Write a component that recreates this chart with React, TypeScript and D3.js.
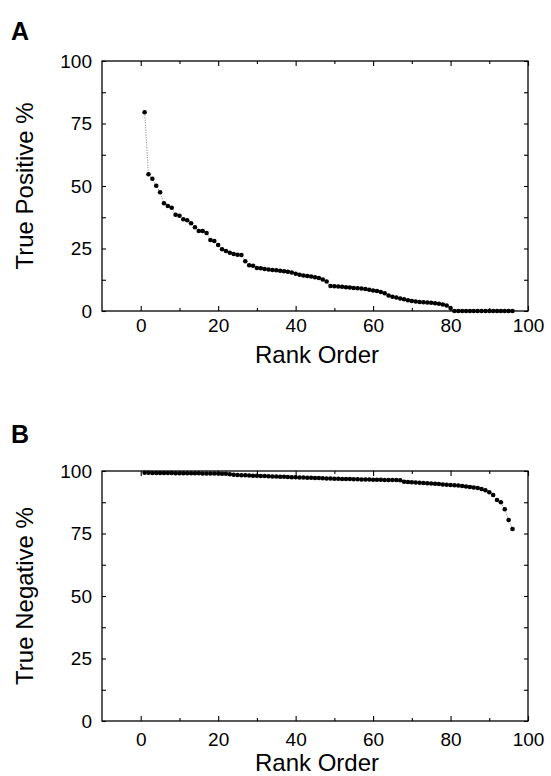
import React, { useEffect, useRef } from 'react'
import { select, scaleLinear, axisBottom, axisTop, axisLeft, axisRight, line, range } from 'd3'

// rank order 1..96, shared by both panels
const ranks = range(1, 97)

// panel A, true positive % for each rank
const truePositive = [
  79.5, 54.7, 52.9, 50.1, 47.5, 43.1, 42.0, 41.3, 38.5, 38.1,
  36.7, 36.3, 35.1, 33.5, 32.0, 32.0, 31.2, 28.4, 28.0, 26.4,
  24.7, 24.0, 23.3, 22.8, 22.5, 22.4, 19.9, 18.3, 18.1, 17.2,
  17.1, 16.8, 16.6, 16.4, 16.3, 16.1, 15.9, 15.7, 15.4, 14.9,
  14.5, 14.2, 14.0, 13.8, 13.5, 13.2, 12.6, 11.8, 10.0, 9.9,
  9.8, 9.7, 9.5, 9.4, 9.2, 9.1, 9.0, 8.8, 8.5, 8.2,
  8.0, 7.6, 7.1, 6.2, 5.7, 5.4, 5.0, 4.7, 4.3, 4.0,
  3.8, 3.6, 3.5, 3.4, 3.3, 3.1, 2.9, 2.6, 2.2, 1.2,
  0, 0, 0, 0, 0, 0, 0, 0, 0, 0,
  0, 0, 0, 0, 0, 0
]

// panel B, true negative % for each rank
const trueNegative = [
  99.3, 99.3, 99.2, 99.2, 99.2, 99.2, 99.2, 99.2, 99.1, 99.1,
  99.1, 99.1, 99.1, 99.1, 99.1, 99.0, 99.0, 99.0, 99.0, 99.0,
  98.9, 98.9, 98.7, 98.5, 98.4, 98.3, 98.3, 98.2, 98.1, 98.1,
  98.0, 98.0, 97.9, 97.8, 97.8, 97.7, 97.7, 97.6, 97.5, 97.5,
  97.4, 97.4, 97.3, 97.3, 97.2, 97.2, 97.1, 97.0, 97.0, 96.9,
  96.9, 96.8, 96.8, 96.8, 96.7, 96.7, 96.6, 96.6, 96.6, 96.5,
  96.5, 96.5, 96.4, 96.4, 96.4, 96.4, 96.3, 95.7, 95.6, 95.5,
  95.4, 95.3, 95.2, 95.1, 95.0, 94.9, 94.8, 94.6, 94.5, 94.4,
  94.3, 94.2, 94.0, 93.8, 93.6, 93.4, 93.2, 92.8, 92.3, 91.5,
  90.4, 88.4, 87.5, 84.7, 80.4, 76.8
]

const xMajor = [0, 20, 40, 60, 80, 100]
const xMinor = [10, 30, 50, 70, 90]
const yMajor = [0, 25, 50, 75, 100]
const yMinor = [12.5, 37.5, 62.5, 87.5]

const font = 'Liberation Sans, Arial, Helvetica, sans-serif'

function drawPanel(svg, opts) {
  const { top, letter, letterY, yTitle, values, labelPad, titleGap } = opts
  const left = 102, right = 528, height = 250

  const x = scaleLinear().domain([-10, 100]).range([left, right])
  const y = scaleLinear().domain([0, 100]).range([top + height, top])

  const g = svg.append('g')

  const tickStyle = (sel) => {
    sel.select('.domain').remove()
    sel.selectAll('line').attr('stroke', '#000').attr('stroke-width', 1.1)
    sel.selectAll('text').attr('font-family', font).attr('font-size', 19).attr('fill', '#000')
  }

  // bottom axis with labels, inward ticks
  g.append('g').attr('transform', `translate(0,${top + height})`)
    .call(axisBottom(x).tickValues(xMajor).tickSize(-5).tickPadding(labelPad).tickFormat((d) => d))
    .call(tickStyle)
  g.append('g').attr('transform', `translate(0,${top + height})`)
    .call(axisBottom(x).tickValues(xMinor).tickSize(-3).tickFormat(''))
    .call(tickStyle)
  g.append('g').attr('transform', `translate(0,${top})`)
    .call(axisTop(x).tickValues(xMajor).tickSize(-5).tickFormat(''))
    .call(tickStyle)
  g.append('g').attr('transform', `translate(0,${top})`)
    .call(axisTop(x).tickValues(xMinor).tickSize(-3).tickFormat(''))
    .call(tickStyle)

  g.append('g').attr('transform', `translate(${left},0)`)
    .call(axisLeft(y).tickValues(yMajor).tickSize(-4).tickPadding(10).tickFormat((d) => d))
    .call(tickStyle)
  g.append('g').attr('transform', `translate(${left},0)`)
    .call(axisLeft(y).tickValues(yMinor).tickSize(-4).tickFormat(''))
    .call(tickStyle)
  g.append('g').attr('transform', `translate(${right},0)`)
    .call(axisRight(y).tickValues(yMajor.concat(yMinor)).tickSize(-4).tickFormat(''))
    .call(tickStyle)

  // frame
  g.append('rect')
    .attr('x', left).attr('y', top)
    .attr('width', right - left).attr('height', height)
    .attr('fill', 'none').attr('stroke', '#000').attr('stroke-width', 1.3)

  const pts = ranks.map((r, i) => [r, values[i]])

  g.append('path')
    .datum(pts)
    .attr('d', line().x((d) => x(d[0])).y((d) => y(d[1])))
    .attr('fill', 'none')
    .attr('stroke', '#555')
    .attr('stroke-width', 0.8)
    .attr('stroke-dasharray', '1,1.5')

  g.selectAll('circle.pt')
    .data(pts)
    .join('circle')
    .attr('class', 'pt')
    .attr('cx', (d) => x(d[0]))
    .attr('cy', (d) => y(d[1]))
    .attr('r', 2.3)
    .attr('fill', '#000')

  // titles
  g.append('text')
    .attr('x', 317).attr('y', top + height + titleGap)
    .attr('text-anchor', 'middle')
    .attr('font-family', font).attr('font-size', 24)
    .text('Rank Order')

  g.append('text')
    .attr('transform', `translate(33,${top + height / 2}) rotate(-90)`)
    .attr('text-anchor', 'middle')
    .attr('font-family', font).attr('font-size', 24)
    .text(yTitle)

  g.append('text')
    .attr('x', 11).attr('y', letterY)
    .attr('font-family', font).attr('font-size', 25).attr('font-weight', 'bold')
    .text(letter)
}

function App() {
  const ref = useRef(null)

  useEffect(() => {
    const svg = select(ref.current)
    svg.selectAll('*').remove()
    drawPanel(svg, { top: 61, letter: 'A', letterY: 40, yTitle: 'True Positive %', values: truePositive, labelPad: 7.5, titleGap: 52 })
    drawPanel(svg, { top: 471, letter: 'B', letterY: 443, yTitle: 'True Negative %', values: trueNegative, labelPad: 12, titleGap: 50 })
  }, [])

  return (
    <svg
      ref={ref}
      width={551}
      height={776}
      style={{ position: 'absolute', left: 0, top: 0, background: '#fff' }}
    />
  )
}

export default App
